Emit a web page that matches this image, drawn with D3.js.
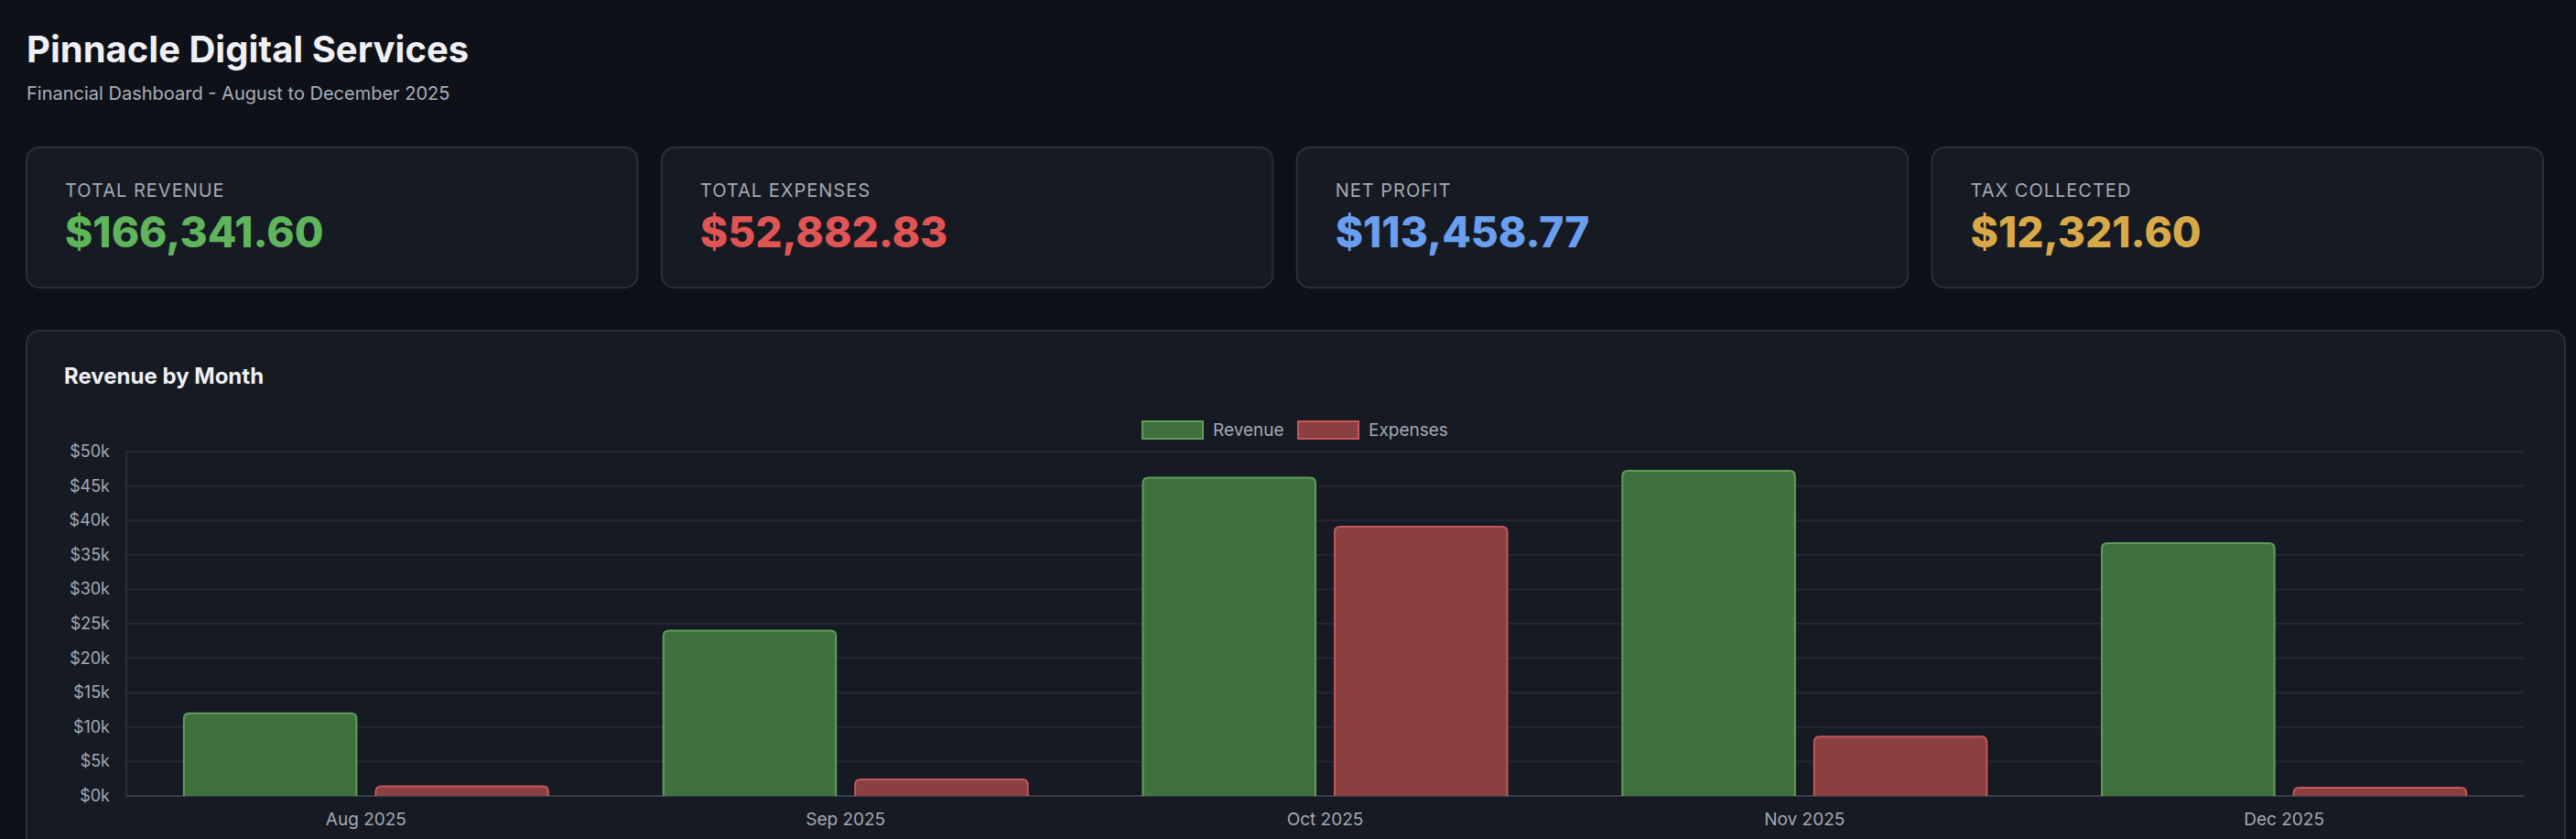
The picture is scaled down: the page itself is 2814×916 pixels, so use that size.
<!DOCTYPE html>
<html><head><meta charset="utf-8">
<script src="https://cdn.jsdelivr.net/npm/d3@7"></script>
<style>
body{margin:0;background:#0e1117;font-family:Inter,"Liberation Sans",sans-serif;}
</style></head>
<body><svg id="c" width="2814" height="916"></svg>
<script>
// データ
var months = ["Aug 2025","Sep 2025","Oct 2025","Nov 2025","Dec 2025"];
var revenue = [12000, 24000, 46200, 47200, 36700];
var expenses = [1400, 2400, 39100, 8600, 1200];
var yTicks = [0,5000,10000,15000,20000,25000,30000,35000,40000,45000,50000];
var cardLabels = ["TOTAL REVENUE","TOTAL EXPENSES","NET PROFIT","TAX COLLECTED"];
var cardValues = ["$166,341.60","$52,882.83","$113,458.77","$12,321.60"];
var cardColors = ["#5fb45c","#e05454","#6a9ff0","#d8a948"];
var series = ["Revenue","Expenses"];
var fills = ["#41703f","#8a3f41"];
var strokes = ["#5f9e5a","#c4585a"];

var svg = d3.select("#c");

svg.append("text").attr("x",29).attr("y",68).attr("fill","#eef0f4")
    .style("font-size","40px").style("font-weight","700").text("Pinnacle Digital Services");
svg.append("text").attr("x",29).attr("y",109).attr("fill","#a9afba")
    .style("font-size","20px").text("Financial Dashboard - August to December 2025");

// カード
var cardX = d3.scaleBand().domain(d3.range(4)).range([29,2778]).paddingInner(0.038);
var cards = svg.selectAll(".card").data(cardLabels).enter().append("g")
    .attr("transform", function(d,i){ return "translate("+cardX(i)+",161)"; });
cards.append("rect").attr("width",cardX.bandwidth()).attr("height",153).attr("rx",14)
    .attr("fill","#161a22").attr("stroke","#2a2f3a").attr("stroke-width",2);
cards.append("text").attr("x",42).attr("y",54).attr("fill","#a3a9b4")
    .style("font-size","20px").style("letter-spacing","1px").text(function(d){ return d; });
cards.append("text").attr("x",42).attr("y",109)
    .attr("fill",function(d,i){ return cardColors[i]; })
    .style("font-size","46px").style("font-weight","800")
    .text(function(d,i){ return cardValues[i]; });

// チャートパネル
svg.append("rect").attr("x",29).attr("y",361).attr("width",2773).attr("height",580).attr("rx",14)
    .attr("fill","#161a22").attr("stroke","#2a2f3a").attr("stroke-width",2);
svg.append("text").attr("x",70).attr("y",419).attr("fill","#eef0f4")
    .style("font-size","24px").style("font-weight","700").text("Revenue by Month");

var pLeft=138, pRight=2757, pTop=493, pBottom=869;
var y = d3.scaleLinear().domain([0,50000]).range([pBottom,pTop]);
var x0 = d3.scaleBand().domain(months).range([pLeft,pRight]).paddingInner(0.24).paddingOuter(0.12);
var x1 = d3.scaleBand().domain(series).range([0,x0.bandwidth()]).paddingInner(0.1);

var g = svg.append("g");
g.selectAll(".grid").data(yTicks).enter().append("line")
    .attr("x1",pLeft).attr("x2",pRight).attr("y1",function(d){return y(d);}).attr("y2",function(d){return y(d);})
    .attr("stroke",function(d){ return d===0 ? "#3a404c" : "#232833"; }).attr("stroke-width",2);
g.append("line").attr("x1",pLeft).attr("x2",pLeft).attr("y1",pTop).attr("y2",pBottom)
    .attr("stroke","#2a303b").attr("stroke-width",2);
g.selectAll(".yl").data(yTicks).enter().append("text")
    .attr("x",pLeft-18).attr("y",function(d){return y(d)+6;}).attr("text-anchor","end")
    .attr("fill","#a3a9b4").style("font-size","18px")
    .text(function(d){ return "$"+(d/1000)+"k"; });
g.selectAll(".xl").data(months).enter().append("text")
    .attr("x",function(d){ return x0(d)+x0.bandwidth()/2; }).attr("y",901).attr("text-anchor","middle")
    .attr("fill","#a3a9b4").style("font-size","19px").text(function(d){ return d; });

var groups = g.selectAll(".m").data(months).enter().append("g")
    .attr("transform",function(d){ return "translate("+x0(d)+",0)"; });
groups.selectAll("path").data(function(d,i){ return [revenue[i],expenses[i]]; }).enter().append("path")
    .attr("d",function(v,j){
        var bx=x1(series[j]), w=x1.bandwidth(), by=y(v), r=6;
        return "M"+bx+","+pBottom+"V"+(by+r)+"Q"+bx+","+by+" "+(bx+r)+","+by+
            "H"+(bx+w-r)+"Q"+(bx+w)+","+by+" "+(bx+w)+","+(by+r)+"V"+pBottom;
    })
    .attr("fill",function(v,j){ return fills[j]; })
    .attr("stroke",function(v,j){ return strokes[j]; }).attr("stroke-width",2);

// 凡例
var legend = svg.append("g").attr("transform","translate(1248,460)");
var lx=[0,170];
series.forEach(function(s,i){
    legend.append("rect").attr("x",lx[i]).attr("y",0).attr("width",66).attr("height",19)
        .attr("fill",fills[i]).attr("stroke",strokes[i]).attr("stroke-width",2);
    legend.append("text").attr("x",lx[i]+77).attr("y",16).attr("fill","#a3a9b4")
        .style("font-size","19px").text(s);
});
</script></body></html>
